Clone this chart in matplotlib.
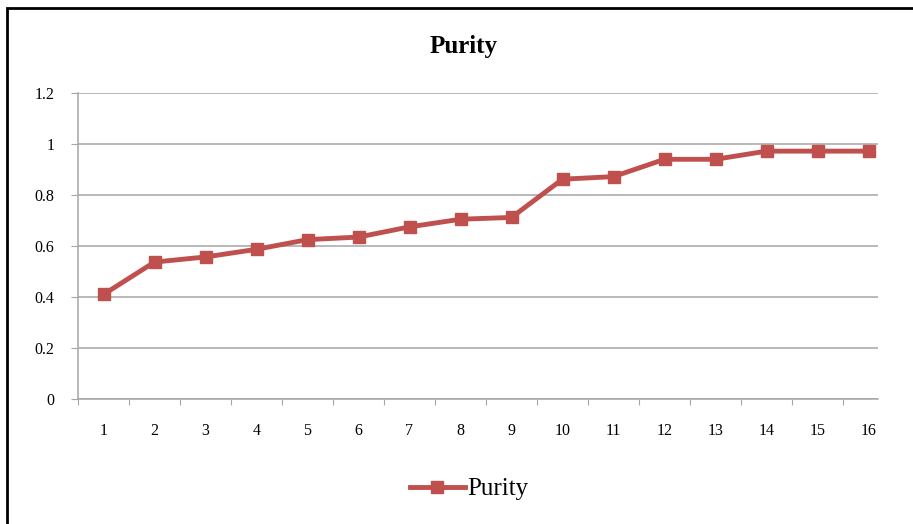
import matplotlib.pyplot as plt
import matplotlib.patches as mpatches

# data
runs = list(range(1, 17))
purity = [0.41, 0.537, 0.557, 0.587, 0.625, 0.635, 0.675, 0.705,
          0.712, 0.862, 0.872, 0.94, 0.94, 0.972, 0.972, 0.972]
y_ticks = [0, 0.2, 0.4, 0.6, 0.8, 1.0, 1.2]
y_labels = ['0', '0.2', '0.4', '0.6', '0.8', '1', '1.2']

plt.rcParams['font.family'] = ['Liberation Serif', 'DejaVu Serif']

fig = plt.figure(figsize=(9.13, 5.24), dpi=100)
ax = fig.add_axes([78 / 913, 1 - 399 / 524, 800 / 913, 306 / 524])

grid_col = '#A6A6A6'
line_col = '#C0504D'

ax.plot(runs, purity, color=line_col, linewidth=3.5, marker='s', markersize=8,
        markeredgecolor=line_col, label='Purity', zorder=3, clip_on=False)

# category axis: ticks between categories, labels at centres
ax.set_xlim(0.5, 0.5 + 800 / 51)
ax.set_xticks([k + 0.5 for k in range(0, 16)])
ax.set_xticklabels([])
ax.set_xticks(runs, minor=True)
ax.set_xticklabels([str(r) for r in runs], minor=True, fontsize=11.5)
ax.tick_params(axis='x', which='major', direction='out', length=4, color=grid_col)
ax.tick_params(axis='x', which='minor', length=0, pad=17)

ax.set_ylim(0, 1.2)
ax.set_yticks(y_ticks)
ax.set_yticklabels(y_labels, fontsize=11.5)
ax.tick_params(axis='y', direction='out', length=5, color=grid_col, pad=12)

ax.grid(which='major', axis='y', color=grid_col, linewidth=1.1, zorder=1)
for side in ['top', 'right']:
    ax.spines[side].set_visible(False)
for side in ['left', 'bottom']:
    ax.spines[side].set_color(grid_col)
    ax.spines[side].set_linewidth(1.1)

fig.text(464 / 913, 1 - 47 / 524, 'Purity', ha='center', va='center',
         fontsize=18, fontweight='bold')

fig.legend(loc='center', bbox_to_anchor=(469 / 913, 1 - 489 / 524), frameon=False,
           fontsize=18, handlelength=2.2, handletextpad=0.1)

# outer chart border (cut off at right and bottom in the reference)
fig.patches.append(mpatches.Rectangle((7 / 913, -0.1), 1.2, 1.1 - 7.5 / 524,
                                      transform=fig.transFigure, fill=False,
                                      edgecolor='black', linewidth=2))

fig.savefig('out.png', dpi=100)
